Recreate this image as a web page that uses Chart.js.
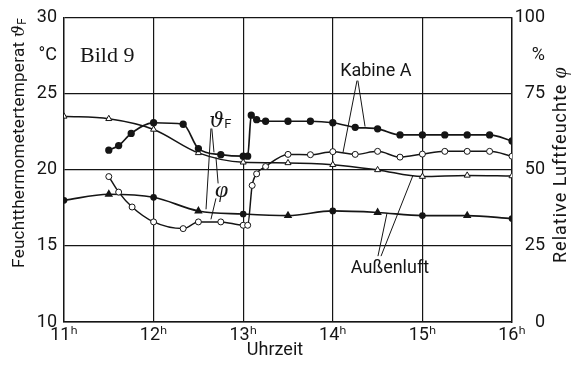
<!DOCTYPE html>
<html><head><meta charset="utf-8">
<script src="https://cdn.jsdelivr.net/npm/chart.js@4"></script>
<style>html,body{margin:0;padding:0;background:#fff}#wrap{width:586px;height:374px}</style>
</head><body><div id="wrap"><canvas id="c"></canvas></div>
<script>
// Kabine A – wet-bulb temperature (°C)
const kabineTempTime = [11.5,11.61,11.75,12.0,12.33,12.5,12.75,13.0,13.05,13.09,13.15,13.25,13.5,13.75,14.0,14.25,14.5,14.75,15.0,15.25,15.5,15.75,16.0];
const kabineTemp     = [21.3,21.6,22.4,23.1,23.0,21.4,21.0,20.9,20.9,23.6,23.3,23.2,23.2,23.2,23.1,22.8,22.7,22.3,22.3,22.3,22.3,22.3,21.9];
// Kabine A – relative humidity (%)
const kabineHumTime  = [11.5,11.61,11.76,12.0,12.33,12.5,12.75,13.0,13.05,13.1,13.15,13.25,13.5,13.75,14.0,14.25,14.5,14.75,15.0,15.25,15.5,15.75,16.0];
const kabineHum      = [47.8,42.7,37.8,32.9,30.7,32.9,32.9,31.8,31.8,44.9,48.7,51.1,55.1,55.0,56.0,55.1,56.1,54.2,55.2,56.1,56.1,56.1,54.5];
// Außenluft
const aussenTime     = [11,11.5,12,12.5,13,13.5,14,14.5,15,15.5,16];
const aussenTemp     = [18.0,18.4,18.2,17.3,17.1,17.0,17.3,17.2,17.0,17.0,16.8];
const aussenHum      = [67.6,66.8,63.3,55.6,52.5,52.3,51.7,50.0,47.8,48.2,48.0];
// tick labels
const hourTicks  = [11,12,13,14,15,16];
const hourLabels = ['11ʰ','12ʰ','13ʰ','14ʰ','15ʰ','16ʰ'];
const leftTickValues  = [10,15,20,25,27.5,30];
const leftTickLabels  = ['10','15','20','25','°C','30'];
const rightTickValues = [0,25,50,75,87.5,100];
const rightTickLabels = ['0','25','50','75','%','100'];

const INK = '#151515';
const SANS = 'Roboto, "DejaVu Sans", sans-serif';
const SERIF = '"Liberation Serif", "DejaVu Serif", serif';
const THETA = '"DejaVu Serif", serif';

const pts = (xs, ys) => xs.map((t, i) => ({x: t, y: ys[i]}));

const annotations = {
  lines: [
    [[12.64,22.72],[12.585,17.41]],
    [[12.65,22.72],[12.674,21.15]],
    [[12.72,19.11],[12.696,20.82]],
    [[12.696,18.13],[12.64,16.75]],
    [[14.27,25.87],[14.114,21.15]],
    [[14.28,25.87],[14.36,22.85]],
    [[14.504,14.33],[14.605,17.15]],
    [[14.538,14.33],[14.895,19.64]]
  ]
};

const annotPlugin = {
  id: 'annot',
  afterDraw(chart) {
    const {ctx, scales: {x, y}} = chart;
    const P = (t, T) => [x.getPixelForValue(t), y.getPixelForValue(T)];
    ctx.save();
    ctx.strokeStyle = INK; ctx.fillStyle = INK; ctx.lineWidth = 1;
    annotations.lines.forEach(([a, b]) => {
      const p = P(a[0], a[1]), q = P(b[0], b[1]);
      ctx.beginPath(); ctx.moveTo(p[0], p[1]); ctx.lineTo(q[0], q[1]); ctx.stroke();
    });
    // Bild 9
    let p = P(11.179, 27.11);
    ctx.font = '22px ' + SERIF; ctx.textAlign = 'left'; ctx.textBaseline = 'alphabetic';
    ctx.fillText('Bild 9', p[0], p[1]);
    // Kabine A
    p = P(14.48, 26.46);
    ctx.font = '18px ' + SANS; ctx.textAlign = 'center'; ctx.textBaseline = 'middle';
    ctx.fillText('Kabine A', p[0], p[1]);
    // Außenluft
    p = P(14.638, 13.54);
    ctx.fillText('Außenluft', p[0], p[1]);
    // theta_F
    p = P(12.62, 22.85);
    ctx.textAlign = 'left'; ctx.textBaseline = 'alphabetic';
    ctx.font = 'italic 21px ' + THETA;
    ctx.fillText('ϑ', p[0], p[1]);
    const wt = ctx.measureText('ϑ').width;
    ctx.font = '13px ' + SANS;
    ctx.fillText('F', p[0] + wt, p[1] + 1);
    // phi
    p = P(12.685, 18.66);
    ctx.font = 'italic 24px ' + SERIF; ctx.textBaseline = 'middle';
    ctx.fillText('φ', p[0], p[1]);
    // Axis titles
    const area = chart.chartArea;
    // left title (reads bottom to top, ends at top of plot)
    ctx.save();
    ctx.translate(20, area.top);
    ctx.rotate(-Math.PI / 2);
    ctx.textBaseline = 'middle'; ctx.textAlign = 'left';
    ctx.letterSpacing = '0.3px';
    const t1 = 'Feuchtthermometertemperat ';
    ctx.font = '17px ' + SANS; const w1 = ctx.measureText(t1).width;
    ctx.font = 'italic 17px ' + THETA; const w2 = ctx.measureText('ϑ').width;
    ctx.font = '12px ' + SANS; const w3 = ctx.measureText('F').width;
    let sx = -(w1 + w2 + w3);
    ctx.font = '17px ' + SANS; ctx.fillText(t1, sx, 0); sx += w1;
    ctx.font = 'italic 17px ' + THETA; ctx.fillText('ϑ', sx, 0); sx += w2;
    ctx.font = '12px ' + SANS; ctx.fillText('F', sx, 3);
    ctx.restore();
    // right title
    ctx.save();
    ctx.translate(561, 263);
    ctx.rotate(-Math.PI / 2);
    ctx.textBaseline = 'middle'; ctx.textAlign = 'left';
    ctx.letterSpacing = '1px';
    const r1 = 'Relative Luftfeuchte ';
    ctx.font = '18px ' + SANS; ctx.fillText(r1, 0, 0);
    const rw = ctx.measureText(r1).width;
    ctx.font = 'italic 20px ' + SERIF; ctx.fillText('φ', rw, 0);
    ctx.restore();
    // x title
    ctx.font = '18px ' + SANS; ctx.textAlign = 'center'; ctx.textBaseline = 'middle';
    ctx.fillText('Uhrzeit', 275, 350);
    ctx.restore();
  }
};

new Chart(document.getElementById('c'), {
  type: 'line',
  data: {
    datasets: [
      {label: 'Kabine A ϑF', data: pts(kabineTempTime, kabineTemp), yAxisID: 'y',
       borderColor: INK, backgroundColor: INK, borderWidth: 1.7,
       pointStyle: 'circle', pointRadius: 2.8, pointBackgroundColor: INK, pointBorderColor: INK,
       cubicInterpolationMode: 'monotone'},
      {label: 'Kabine A φ', data: pts(kabineHumTime, kabineHum), yAxisID: 'y2',
       borderColor: INK, backgroundColor: '#fff', borderWidth: 1.5,
       pointStyle: 'circle', pointRadius: 3, pointBorderWidth: 1, pointBackgroundColor: '#fff', pointBorderColor: INK,
       cubicInterpolationMode: 'monotone'},
      {label: 'Außenluft φ', data: pts(aussenTime, aussenHum), yAxisID: 'y2',
       borderColor: INK, backgroundColor: '#fff', borderWidth: 1.5,
       pointStyle: 'triangle', pointRadius: 3.5, pointBorderWidth: 1, pointBackgroundColor: '#fff', pointBorderColor: INK,
       cubicInterpolationMode: 'monotone'},
      {label: 'Außenluft ϑF', data: pts(aussenTime, aussenTemp), yAxisID: 'y',
       borderColor: INK, backgroundColor: INK, borderWidth: 1.7,
       pointStyle: aussenTime.map(t => Number.isInteger(t) ? 'circle' : 'triangle'),
       pointRadius: aussenTime.map(t => Number.isInteger(t) ? 2.5 : 3.2),
       pointBackgroundColor: INK, pointBorderColor: INK,
       cubicInterpolationMode: 'monotone'}
    ]
  },
  options: {
    responsive: true, maintainAspectRatio: false, animation: false,
    layout: {padding: {left: 0, right: 41, top: 17, bottom: 0}},
    plugins: {legend: {display: false}, tooltip: {enabled: false}},
    scales: {
      x: {type: 'linear', min: 11, max: 16,
          afterFit: s => { s.height = 52; },
          afterBuildTicks: s => { s.ticks = hourTicks.map(v => ({value: v})); },
          ticks: {callback: v => hourLabels[hourTicks.indexOf(v)] ?? '', padding: 3,
                  color: INK, font: {family: SANS, size: 18}, maxRotation: 0, autoSkip: false},
          grid: {color: INK, lineWidth: 1.2, drawTicks: false},
          border: {color: INK, width: 1.4}},
      y: {type: 'linear', position: 'left', min: 10, max: 30,
          afterFit: s => { s.width = 64; },
          afterBuildTicks: s => { s.ticks = [10,12.5,15,17.5,20,22.5,25,27.5,30].map(v => ({value: v})); },
          ticks: {callback: v => { const i = leftTickValues.indexOf(v); return i >= 0 ? leftTickLabels[i] : ''; },
                  padding: 7, color: INK, font: {family: SANS, size: 18}, autoSkip: false},
          grid: {color: c => (c.tick && c.tick.value % 5 === 0) ? INK : 'rgba(0,0,0,0)', lineWidth: 1.2, drawTicks: false},
          border: {color: INK, width: 1.4}},
      y2: {type: 'linear', position: 'right', min: 0, max: 100,
           afterFit: s => { s.width = 33; },
           afterBuildTicks: s => { s.ticks = [0,12.5,25,37.5,50,62.5,75,87.5,100].map(v => ({value: v})); },
           ticks: {callback: v => { const i = rightTickValues.indexOf(v); return i >= 0 ? rightTickLabels[i] : ''; },
                   crossAlign: 'far', padding: 6, color: INK, font: {family: SANS, size: 18}, autoSkip: false},
           grid: {display: false, drawTicks: false},
           border: {color: INK, width: 1.4}}
    }
  },
  plugins: [annotPlugin]
});
</script></body></html>
